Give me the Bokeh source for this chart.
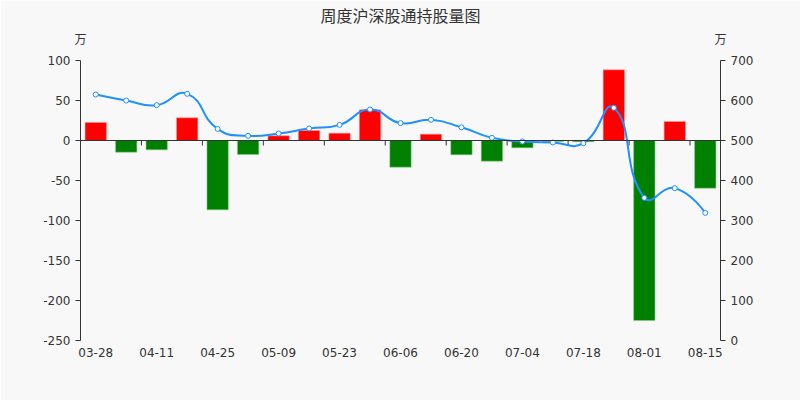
import math
from bokeh.plotting import figure
from bokeh.models import (Range1d, LinearAxis, FixedTicker, Span, Legend, LegendItem,
                          ColumnDataSource)
from bokeh.embed import file_html
from bokeh.resources import INLINE

dates = ["03-28", "04-04", "04-11", "04-18", "04-25", "05-02", "05-09", "05-16", "05-23", "05-30",
         "06-06", "06-13", "06-20", "06-27", "07-04", "07-11", "07-18", "07-25", "08-01", "08-08", "08-15"]
changes = [22.5, -14.6, -11.7, 28.3, -86.7, -17.5, 5.8, 12.5, 9.2, 38.3,
           -33.3, 7.9, -17.9, -25.8, -9.2, -1.2, -1.5, 88.3, -225.0, 23.8, -59.6]
holdings = [615.0, 600.0, 588.3, 616.7, 529.0, 511.7, 517.5, 530.0, 539.0, 577.5,
            543.5, 551.7, 533.0, 506.7, 497.5, 495.0, 493.3, 581.7, 356.7, 380.8, 319.0]
left_ticks = [-250, -200, -150, -100, -50, 0, 50, 100]
right_ticks = [0, 100, 200, 300, 400, 500, 600, 700]

TITLE = "周度沪深股通持股量图"
UNIT = "万"
SERIES_LINE = "持股量"
SERIES_BAR = "持股量涨跌"

BG = "#f8f8f8"
TXT = "#333333"
CJK = "Noto Sans CJK SC"
n = len(dates)
xs = list(range(n))

FRAME_W, FRAME_H = 640, 280
p = figure(frame_width=FRAME_W, frame_height=FRAME_H, output_backend="svg", toolbar_location=None,
           x_range=Range1d(-0.5, n - 0.5), y_range=Range1d(left_ticks[0], left_ticks[-1]),
           min_border_left=80, min_border_right=80, min_border_top=60, min_border_bottom=0,
           background_fill_color=BG, border_fill_color=BG, outline_line_color=None,
           x_axis_type=None, y_axis_type=None)
p.extra_y_ranges = {"right": Range1d(right_ticks[0], right_ticks[-1])}
p.xgrid.visible = False
p.ygrid.visible = False

p.title.text = TITLE
p.title.align = "center"
p.title.text_font = CJK
p.title.text_font_size = "16px"
p.title.text_font_style = "normal"
p.title.text_color = TXT
p.title.standoff = 0

def style_axis(ax):
    ax.axis_line_color = TXT
    ax.major_tick_line_color = TXT
    ax.major_tick_out = 5
    ax.major_tick_in = 0
    ax.minor_tick_line_color = None
    ax.major_label_text_color = TXT
    ax.major_label_text_font = "DejaVu Sans"
    ax.major_label_text_font_size = "12px"

yl = LinearAxis(ticker=FixedTicker(ticks=left_ticks),
                major_label_overrides={t: str(t) for t in left_ticks})
style_axis(yl)
p.add_layout(yl, "left")
yr = LinearAxis(y_range_name="right", ticker=FixedTicker(ticks=right_ticks))
style_axis(yr)
p.add_layout(yr, "right")

# unit labels above both value axes
edges = [-0.5, n - 0.5]
ua = LinearAxis(ticker=FixedTicker(ticks=edges),
                major_label_overrides={e: UNIT for e in edges})
style_axis(ua)
ua.axis_line_color = None
ua.major_tick_line_color = None
ua.major_tick_out = 0
ua.major_label_text_font = CJK
ua.major_label_standoff = 14
p.add_layout(ua, "above")

xa = LinearAxis(ticker=FixedTicker(ticks=xs[::2]),
                major_label_overrides={i: dates[i] for i in xs[::2]})
style_axis(xa)
xa.axis_line_color = None
xa.major_tick_line_color = None
xa.major_tick_out = 0
xa.major_label_standoff = 7
p.add_layout(xa, "below")

# zero line and category boundary ticks
p.add_layout(Span(location=0, dimension="width", line_color=TXT, line_width=1))
units_per_px = (left_ticks[-1] - left_ticks[0]) / FRAME_H
bounds = [i + 1.5 for i in xs[:-1:2]]
p.segment(x0=bounds, y0=[0] * len(bounds), x1=bounds, y1=[-5 * units_per_px] * len(bounds),
          line_color=TXT, line_width=1)

# bars
pos_x = [i for i in xs if changes[i] >= 0]
pos_y = [changes[i] for i in pos_x]
neg_x = [i for i in xs if changes[i] < 0]
neg_y = [changes[i] for i in neg_x]
red = p.vbar(x=pos_x, top=pos_y, bottom=0, width=0.7, fill_color="#ff0000", line_color="#ff9999", line_width=0.5)
green = p.vbar(x=neg_x, top=0, bottom=neg_y, width=0.7, fill_color="#008000", line_color="#88cc88", line_width=0.5)

# smooth line (ECharts-like bezier with smooth=0.5)
sx = FRAME_W / n
sy = FRAME_H / (right_ticks[-1] - right_ticks[0])
smooth = 0.5
cp_in, cp_out = [], []
for i in xs:
    pi = max(i - 1, 0)
    ni = min(i + 1, n - 1)
    vx = xs[ni] - xs[pi]
    vy = holdings[ni] - holdings[pi]
    lp = math.hypot((xs[i] - xs[pi]) * sx, (holdings[i] - holdings[pi]) * sy)
    ln = math.hypot((xs[ni] - xs[i]) * sx, (holdings[ni] - holdings[i]) * sy)
    r = ln / (ln + lp) if (ln + lp) > 0 else 0.5
    cp_in.append((xs[i] - vx * smooth * (1 - r), holdings[i] - vy * smooth * (1 - r)))
    cp_out.append((xs[i] + vx * smooth * r, holdings[i] + vy * smooth * r))
cp_out[0] = (xs[0], holdings[0])
cp_in[-1] = (xs[-1], holdings[-1])
bsrc = ColumnDataSource(dict(
    x0=xs[:-1], y0=holdings[:-1], x1=xs[1:], y1=holdings[1:],
    cx0=[c[0] for c in cp_out[:-1]], cy0=[c[1] for c in cp_out[:-1]],
    cx1=[c[0] for c in cp_in[1:]], cy1=[c[1] for c in cp_in[1:]]))
curve = p.bezier(x0="x0", y0="y0", x1="x1", y1="y1", cx0="cx0", cy0="cy0", cx1="cx1", cy1="cy1",
                 source=bsrc, y_range_name="right", line_color="#1e90ff", line_width=2)
pts = p.scatter(x=xs, y=holdings, y_range_name="right", marker="circle", size=5,
                fill_color="white", line_color="#1e90ff", line_width=1)

legend = Legend(items=[LegendItem(label=SERIES_LINE, renderers=[curve, pts]),
                       LegendItem(label=SERIES_BAR, renderers=[red])],
                orientation="horizontal", location="top_center",
                background_fill_alpha=0, border_line_color=None,
                label_text_font=CJK, label_text_font_size="14px", label_text_color=TXT,
                glyph_width=26, glyph_height=15, padding=0, margin=9, spacing=10, label_standoff=4)
p.add_layout(legend, "below")

open("out.html", "w").write(file_html(p, INLINE))
